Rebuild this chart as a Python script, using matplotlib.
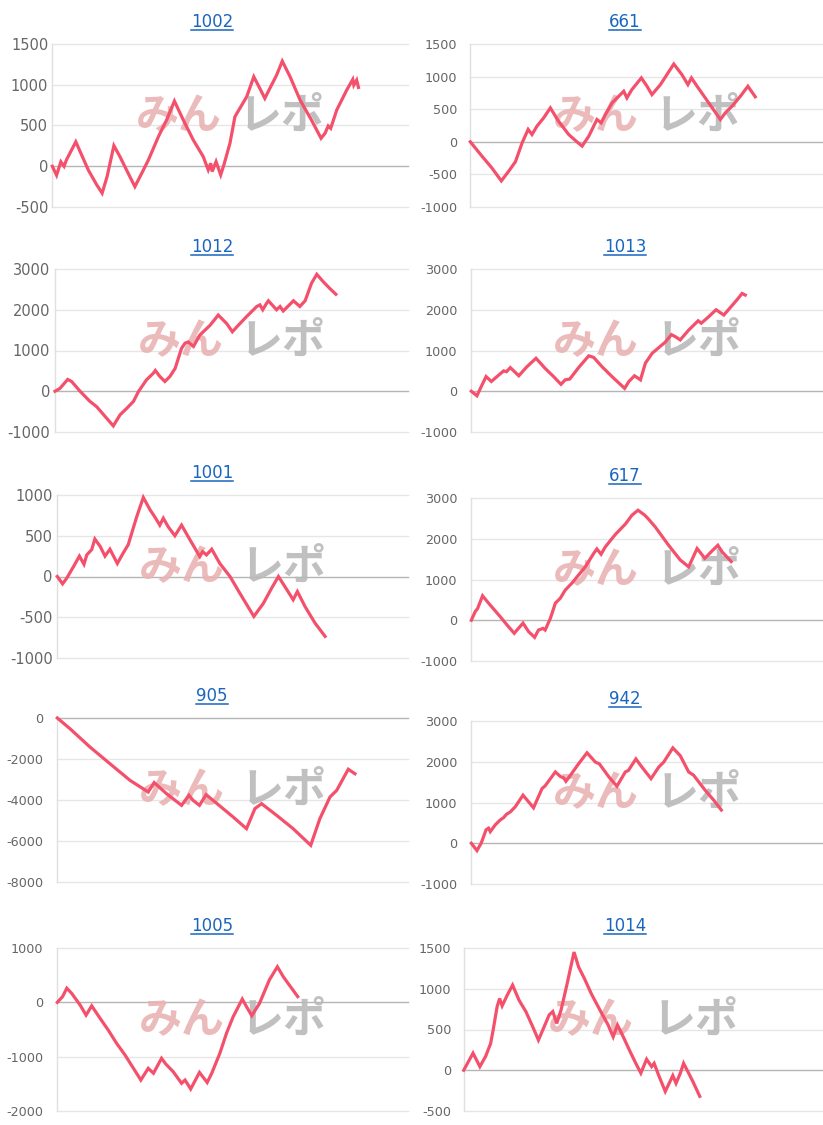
import matplotlib
matplotlib.use("Agg")
import matplotlib.pyplot as plt
from matplotlib.lines import Line2D
from matplotlib.transforms import IdentityTransform

plt.rcParams['font.family'] = ['DejaVu Sans']

# ---------------- data ----------------
titles = ["1002", "661", "1012", "1013", "1001", "617", "905", "942", "1005", "1014"]

x_1002 = [0, 1.2, 2.4, 3.3, 4.0, 6.6, 10.1, 12.5, 14.0, 15.4, 17.3, 19.0, 21.3, 23.2, 25.6, 27.0,
          29.8, 32.1, 34.3, 36.8, 39.6, 42.4, 43.8, 44.5, 44.9, 46.0, 47.3, 48.2, 49.9, 51.3, 54.6,
          56.6, 58.3, 59.7, 61.1, 63.0, 64.6, 66.8, 69.6, 72.8, 75.5, 76.6, 77.5, 78.2, 79.9, 82.7,
          84.4, 84.7, 85.5, 86.0]
y_1002 = [0, -110, 55, 0, 80, 300, -45, -230, -330, -125, 253, 118, -85, -250, -45, 78,
          363, 567, 800, 567, 322, 118, -45, 37, -65, 57, -106, 16, 282, 608, 853,
          1098, 955, 833, 955, 1118, 1290, 1098, 812, 567, 343, 404, 494, 465, 690, 935,
          1065, 996, 1057, 967]

x_661 = [0, 3.3, 6.1, 8.8, 10.9, 12.8, 14.7, 16.4, 17.5, 18.9, 20.8, 22.7, 25.0, 27.9, 30.0, 31.7,
         33.6, 35.9, 37.1, 38.3, 40.2, 43.5, 44.4, 45.8, 48.5, 50.1, 51.5, 53.9, 57.7, 60.0, 61.7,
         62.7, 64.3, 67.6, 70.9, 72.3, 74.2, 76.6, 78.7, 80.8]
y_661 = [0, -220, -400, -600, -450, -305, -15, 190, 112, 240, 367, 520, 316, 112, 10, -66,
         87, 342, 290, 418, 597, 775, 673, 800, 980, 852, 724, 877, 1193, 1030, 877,
         980, 852, 597, 342, 444, 546, 700, 852, 690]

x_1012 = [0, 1.4, 3.6, 4.7, 7.1, 9.9, 10.8, 11.8, 14.2, 16.5, 18.4, 20.3, 22.2, 23.6, 25.9, 27.8,
          28.4, 29.7, 31.1, 32.5, 34.0, 35.8, 36.8, 37.7, 39.2, 41.0, 43.9, 46.2, 48.6, 50.2, 51.9,
          54.2, 57.1, 58.0, 58.8, 59.9, 60.4, 62.7, 63.7, 64.6, 67.5, 69.3, 70.8, 72.6, 74.1, 75.9,
          77.8, 79.5]
y_1012 = [0, 70, 290, 240, 0, -250, -310, -380, -620, -850, -580, -420, -250, -10, 280, 440,
          510, 360, 240, 360, 560, 1050, 1180, 1210, 1100, 1380, 1620, 1870, 1660, 1460, 1620,
          1830, 2080, 2120, 2000, 2160, 2220, 2000, 2080, 1970, 2220, 2080, 2220, 2650, 2870, 2690,
          2520, 2380]

x_1013 = [0, 1.6, 2.8, 4.2, 5.7, 7.3, 9.2, 10.0, 11.1, 13.5, 15.8, 18.4, 21.0, 23.4, 25.5, 26.7,
          28.0, 30.5, 33.4, 34.8, 37.2, 40.0, 43.6, 44.8, 46.4, 48.1, 49.5, 51.4, 55.2, 56.9, 58.0,
          59.4, 61.8, 64.5, 65.4, 67.5, 69.6, 71.8, 73.9, 75.5, 77.0, 77.9]
y_1013 = [0, -110, 110, 360, 240, 360, 500, 480, 580, 380, 600, 810, 560, 360, 170, 280,
          300, 580, 870, 830, 600, 360, 70, 240, 380, 280, 690, 930, 1210, 1390, 1340,
          1260, 1500, 1730, 1670, 1830, 2000, 1870, 2080, 2240, 2400, 2360]

x_1001 = [0, 1.5, 2.7, 4.6, 6.3, 7.6, 8.4, 9.8, 10.7, 12.2, 13.6, 15.0, 17.1, 18.8, 20.2, 22.6,
          24.5, 26.4, 27.8, 29.2, 30.2, 31.6, 33.5, 35.4, 37.8, 40.6, 41.4, 42.5, 44.0, 46.3, 49.2,
          52.0, 56.0, 58.7, 61.1, 63.0, 65.3, 67.2, 68.4, 70.6, 73.4, 76.3]
y_1001 = [0, -90, -20, 120, 250, 150, 265, 330, 460, 370, 250, 335, 160, 290, 390, 730,
          970, 820, 730, 630, 715, 610, 500, 630, 450, 245, 305, 265, 335, 160, 0,
          -205, -490, -330, -140, 0, -155, -285, -185, -370, -570, -735]

x_617 = [0, 1.1, 1.8, 3.2, 4.9, 6.8, 8.2, 10.1, 12.2, 14.7, 16.3, 18.0, 19.1, 20.4, 21.0, 22.5,
         23.9, 25.3, 26.7, 28.6, 30.5, 32.4, 34.8, 35.7, 36.9, 38.1, 40.9, 43.8, 45.7, 47.4, 49.3,
         50.2, 52.3, 56.1, 59.4, 61.8, 64.2, 66.4, 68.2, 70.1, 71.3, 73.9]
y_617 = [0, 210, 290, 600, 420, 230, 90, -110, -320, -70, -280, -420, -240, -200, -240, 50,
         420, 540, 740, 910, 1110, 1310, 1640, 1750, 1620, 1800, 2100, 2360, 2580, 2700, 2580,
         2500, 2290, 1840, 1480, 1310, 1760, 1520, 1680, 1840, 1680, 1440]

x_905 = [0, 3.6, 9.3, 15.0, 20.7, 25.9, 27.6, 31.1, 35.4, 37.5, 38.7, 40.5, 42.4, 46.3, 50.1,
         53.9, 56.3, 58.2, 62.5, 67.2, 72.2, 74.8, 77.7, 79.6, 82.9, 84.8]
y_905 = [0, -520, -1415, -2230, -3040, -3610, -3150, -3690, -4260, -3770, -4020, -4260, -3740,
         -4290, -4830, -5400, -4420, -4180, -4750, -5400, -6210, -4910, -3850, -3530, -2500, -2720]

x_942 = [0, 1.6, 2.8, 4.2, 4.9, 5.4, 6.8, 8.2, 9.2, 10.0, 11.1, 12.5, 14.7, 16.3, 17.7, 20.1,
         21.0, 23.9, 25.3, 26.3, 26.9, 28.2, 30.5, 32.9, 35.3, 36.4, 39.1, 41.4, 43.8, 44.7, 46.8,
         48.5, 51.1, 53.3, 54.7, 57.3, 59.4, 61.8, 63.2, 66.5, 68.9, 71.1]
y_942 = [0, -180, 0, 330, 370, 285, 450, 570, 630, 710, 770, 895, 1180, 1015, 870, 1340,
         1410, 1750, 1640, 1600, 1520, 1670, 1950, 2220, 1990, 1950, 1630, 1400, 1750, 1790, 2070,
         1870, 1585, 1870, 1990, 2340, 2150, 1750, 1670, 1300, 1060, 815]

x_1005 = [0, 1.5, 2.7, 4.1, 6.5, 8.2, 9.8, 12.2, 14.5, 16.9, 19.3, 21.7, 23.8, 25.9, 27.4, 29.7,
          30.9, 33.0, 35.4, 36.4, 38.0, 40.5, 42.7, 44.0, 46.3, 48.2, 50.1, 52.7, 53.9, 55.4, 57.6,
          60.4, 62.7, 64.4, 66.3, 68.5]
y_1005 = [0, 105, 260, 165, -50, -235, -65, -295, -510, -755, -970, -1215, -1430, -1215, -1305, -1030,
          -1135, -1275, -1490, -1430, -1595, -1290, -1475, -1305, -940, -570, -265, 60, -80, -245, -20,
          410, 655, 470, 300, 105]

x_1014 = [0, 2.6, 4.5, 6.1, 7.5, 8.2, 9.3, 10.0, 10.7, 12.1, 13.6, 15.4, 17.3, 19.2, 20.8, 22.4,
          23.8, 24.8, 25.9, 27.1, 28.7, 30.7, 32.0, 33.6, 35.5, 37.9, 40.2, 41.6, 42.8, 44.2, 46.3,
          47.9, 49.3, 50.9, 52.3, 53.0, 54.2, 56.1, 58.2, 59.1, 60.3, 61.2, 62.6, 63.8, 65.7]
y_1014 = [0, 210, 45, 170, 330, 495, 780, 880, 790, 920, 1045, 860, 720, 535, 370, 535,
          680, 720, 575, 740, 1045, 1450, 1265, 1125, 940, 740, 555, 410, 555, 430, 230,
          85, -35, 135, 45, 85, -55, -260, -65, -160, -35, 85, -35, -140, -320]

series_x = [x_1002, x_661, x_1012, x_1013, x_1001, x_617, x_905, x_942, x_1005, x_1014]
series_y = [y_1002, y_661, y_1012, y_1013, y_1001, y_617, y_905, y_942, y_1005, y_1014]

yticks_list = [
    [-500, 0, 500, 1000, 1500],
    [-1000, -500, 0, 500, 1000, 1500],
    [-1000, 0, 1000, 2000, 3000],
    [-1000, 0, 1000, 2000, 3000],
    [-1000, -500, 0, 500, 1000],
    [-1000, 0, 1000, 2000, 3000],
    [-8000, -6000, -4000, -2000, 0],
    [-1000, 0, 1000, 2000, 3000],
    [-2000, -1000, 0, 1000],
    [-500, 0, 500, 1000, 1500],
]
x_max = 100

# ---------------- layout (pixels) ----------------
W, H = 823, 1125
# left, right, top, bottom, label pad(px), tick font size, column title center
layout = [
    (52.3, 408.3, 44, 207, 4, 10.5, 212),
    (470.3, 823, 44, 207, 13, 9.2, 625),
    (55.0, 408.3, 269, 432, 5, 10.5, 212),
    (471.3, 823, 269, 432, 14, 9.2, 625),
    (57.3, 408.3, 495, 658, 4.6, 10.5, 212),
    (471.3, 823, 498, 661, 14, 9.2, 625),
    (57.3, 408.3, 718, 882, 14, 9.2, 212),
    (471.3, 823, 721, 884, 14, 9.2, 625),
    (57.3, 408.3, 948, 1111, 14, 9.2, 212),
    (463.7, 823, 948, 1111, 12.4, 9.2, 625),
]

LINE = '#f4506c'
GRID = '#e6e6e6'
ZERO = '#b5b5b5'
TICK = '#666666'
TITLE = '#1a66bf'
CJK = ['Noto Sans CJK JP', 'DejaVu Sans']

fig = plt.figure(figsize=(W / 100, H / 100), dpi=100)
fig.patch.set_facecolor('white')

title_texts = []
for i in range(10):
    l, r, t, b, pad, tfs, tcx = layout[i]
    ax = fig.add_axes([l / W, 1 - b / H, (r - l) / W, (b - t) / H])
    xs, ys = series_x[i], series_y[i]
    yt = yticks_list[i]
    ax.set_xlim(0, x_max)
    ax.set_ylim(yt[0], yt[-1])
    ax.set_yticks(yt)
    ax.set_yticklabels([str(v) for v in yt])
    ax.set_xticks([])
    for v in yt:
        ax.axhline(v, color=ZERO if v == 0 else GRID, lw=1.0, zorder=0.5, clip_on=False)
    for s in ['top', 'right', 'bottom']:
        ax.spines[s].set_visible(False)
    ax.spines['left'].set_color('#e0e0e0')
    ax.spines['left'].set_linewidth(1.0)
    ax.tick_params(axis='y', length=0, pad=pad * 0.72, labelsize=tfs, labelcolor=TICK)
    ax.set_facecolor('white')

    # watermark
    ax.text(0.355, 0.56, "みん", transform=ax.transAxes, fontsize=31, fontweight='bold',
            color='#e9b3b3', family=CJK, ha='center', va='center', zorder=1, alpha=0.9)
    ax.text(0.645, 0.56, "レポ", transform=ax.transAxes, fontsize=31, fontweight='bold',
            color='#b9b9b9', family=CJK, ha='center', va='center', zorder=1, alpha=0.9)

    ax.plot(xs, ys, color=LINE, lw=2.3, solid_joinstyle='miter', zorder=3, clip_on=False)

    tt = fig.text(tcx / W, 1 - (t - 17) / H, titles[i], color=TITLE, fontsize=12,
                  ha='center', va='baseline')
    title_texts.append((tt, t))

fig.canvas.draw()
renderer = fig.canvas.get_renderer()
for tt, t in title_texts:
    bb = tt.get_window_extent(renderer)
    yy = H - (t - 14)
    fig.add_artist(Line2D([bb.x0, bb.x1], [yy, yy], color=TITLE, lw=1.1,
                          transform=IdentityTransform()))

fig.savefig('out.png', dpi=100, facecolor='white')
